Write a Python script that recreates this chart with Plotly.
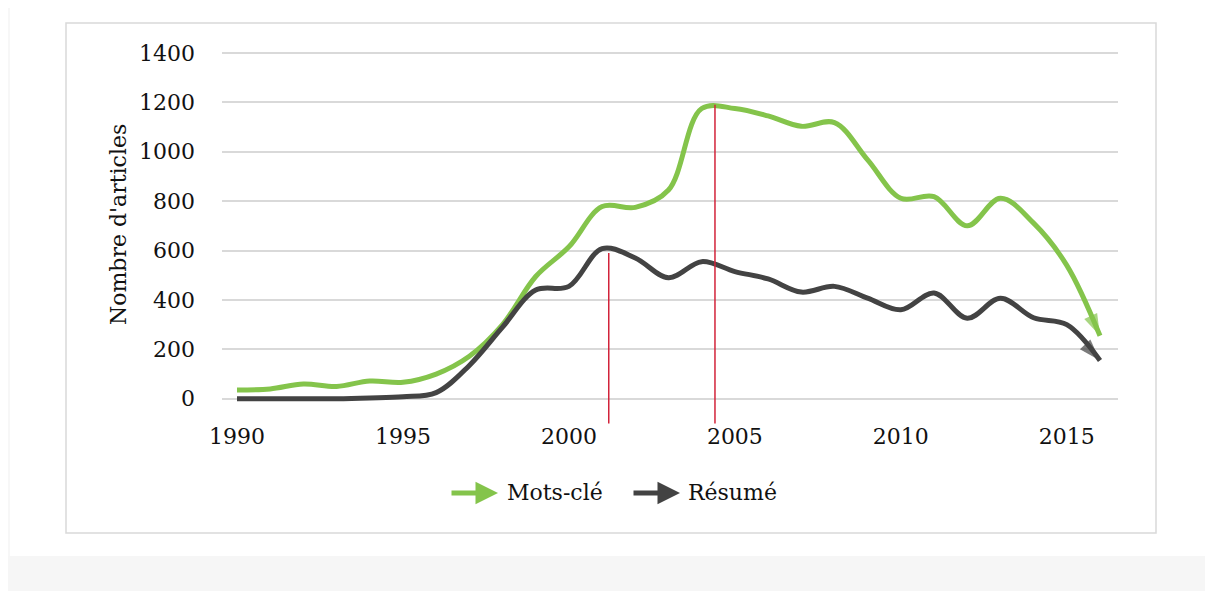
import plotly.graph_objects as go

years = list(range(1990, 2017))
mots_cle = [36, 40, 60, 50, 72, 67, 100, 172, 300, 495, 615, 778, 775, 845, 1175, 1175,
            1145, 1103, 1118, 967, 812, 818, 700, 812, 711, 540, 255]
resume = [0, 0, 0, 0, 3, 8, 25, 135, 290, 440, 455, 608, 570, 490, 555, 515,
          485, 432, 455, 407, 360, 428, 326, 407, 328, 300, 155]
y_ticks = [0, 200, 400, 600, 800, 1000, 1200, 1400]
x_ticks = [1990, 1995, 2000, 2005, 2010, 2015]
series_names = ["Mots-clé", "Résumé"]
marker_years = [2001.2, 2004.4]
marker_tops = [590, 1190]
marker_bottom = -100

GREEN = "#84c44b"
DARK = "#434343"
RED = "#d2233a"
FONT = "DejaVu Serif"
TXT = "#111111"

OFF = 8  # browser body margin
W, H = 1213 - OFF, 591 - OFF
# target screen coordinates of plot area
SL, SR, ST, SB = 222, 1118, 48, 421
L, R, T, B = SL - OFF, SR - OFF, ST - OFF, SB - OFF
pw, ph = R - L, B - T
Y0, Y1 = -90, 1420
X_1990, X_2016 = 237, 1100
PER_YEAR = (X_2016 - X_1990) / 26


def px(xs):
    return (xs - OFF - L) / pw


def py(ys):
    return (B - (ys - OFF)) / ph


def py_val(v):
    return (v - Y0) / (Y1 - Y0)


fig = go.Figure()
n = len(years)
for vals, col in [(mots_cle, GREEN), (resume, DARK)]:
    fig.add_trace(go.Scatter(
        x=years, y=vals, mode="lines+markers",
        line=dict(color=col, width=5, shape="spline", smoothing=1),
        marker=dict(symbol="arrow", angleref="previous", color=col,
                    size=[0] * (n - 1) + [23], line=dict(width=0)),
        showlegend=False, hoverinfo="skip",
    ))

shapes = []
# page background strips
shapes.append(dict(type="rect", xref="paper", yref="paper", x0=px(6), x1=px(1220),
                   y0=py(600), y1=py(556), fillcolor="#f6f6f6", line=dict(width=0), layer="below"))
shapes.append(dict(type="rect", xref="paper", yref="paper", x0=px(8), x1=px(10),
                   y0=py(556), y1=py(8), fillcolor="#f7f7f7", line=dict(width=0), layer="below"))
# chart border
shapes.append(dict(type="rect", xref="paper", yref="paper", x0=px(66), x1=px(1156),
                   y0=py(533), y1=py(23), line=dict(color="#d9d9d9", width=1.5),
                   fillcolor="rgba(0,0,0,0)", layer="below"))
# red marker lines
for xv, top in zip(marker_years, marker_tops):
    shapes.append(dict(type="line", xref="x", yref="paper", x0=xv, x1=xv,
                       y0=py_val(marker_bottom), y1=py_val(top),
                       line=dict(color=RED, width=1.5)))

annotations = [
    dict(text="Nombre d'articles", xref="paper", yref="paper", x=px(118), y=py(225),
         textangle=-90, showarrow=False, font=dict(family=FONT, size=22, color=TXT),
         xanchor="center", yanchor="middle"),
]
# manual legend
leg_y = py(493)
for name, col, tip, txt_x in [(series_names[0], GREEN, 498, 505), (series_names[1], DARK, 680, 686)]:
    annotations.append(dict(text="", xref="paper", yref="paper", x=px(tip), y=leg_y,
                            ax=-48, ay=0, showarrow=True, arrowhead=2, arrowsize=0.9,
                            arrowwidth=5, arrowcolor=col))
    annotations.append(dict(text=name, xref="paper", yref="paper", x=px(txt_x), y=leg_y,
                            showarrow=False, xanchor="left", yanchor="middle",
                            font=dict(family=FONT, size=22, color=TXT)))

xr0 = 1990 - (X_1990 - SL) / PER_YEAR
xr1 = 2016 + (SR - X_2016) / PER_YEAR

fig.update_layout(
    width=W, height=H,
    margin=dict(l=L, r=W - R, t=T, b=H - B),
    paper_bgcolor="white", plot_bgcolor="white",
    shapes=shapes, annotations=annotations,
    showlegend=False,
    xaxis=dict(range=[xr0, xr1], tickvals=x_ticks, showgrid=False, zeroline=False,
               showline=False, ticks="", tickfont=dict(family=FONT, size=22, color=TXT),
               ticklabelstandoff=0),
    yaxis=dict(range=[Y0, Y1], tickvals=y_ticks, showgrid=True, gridcolor="#d9d9d9",
               gridwidth=1.5, zeroline=False, showline=False, ticks="",
               tickfont=dict(family=FONT, size=22, color=TXT), ticklabelstandoff=26),
)

fig.write_html("out.html")
